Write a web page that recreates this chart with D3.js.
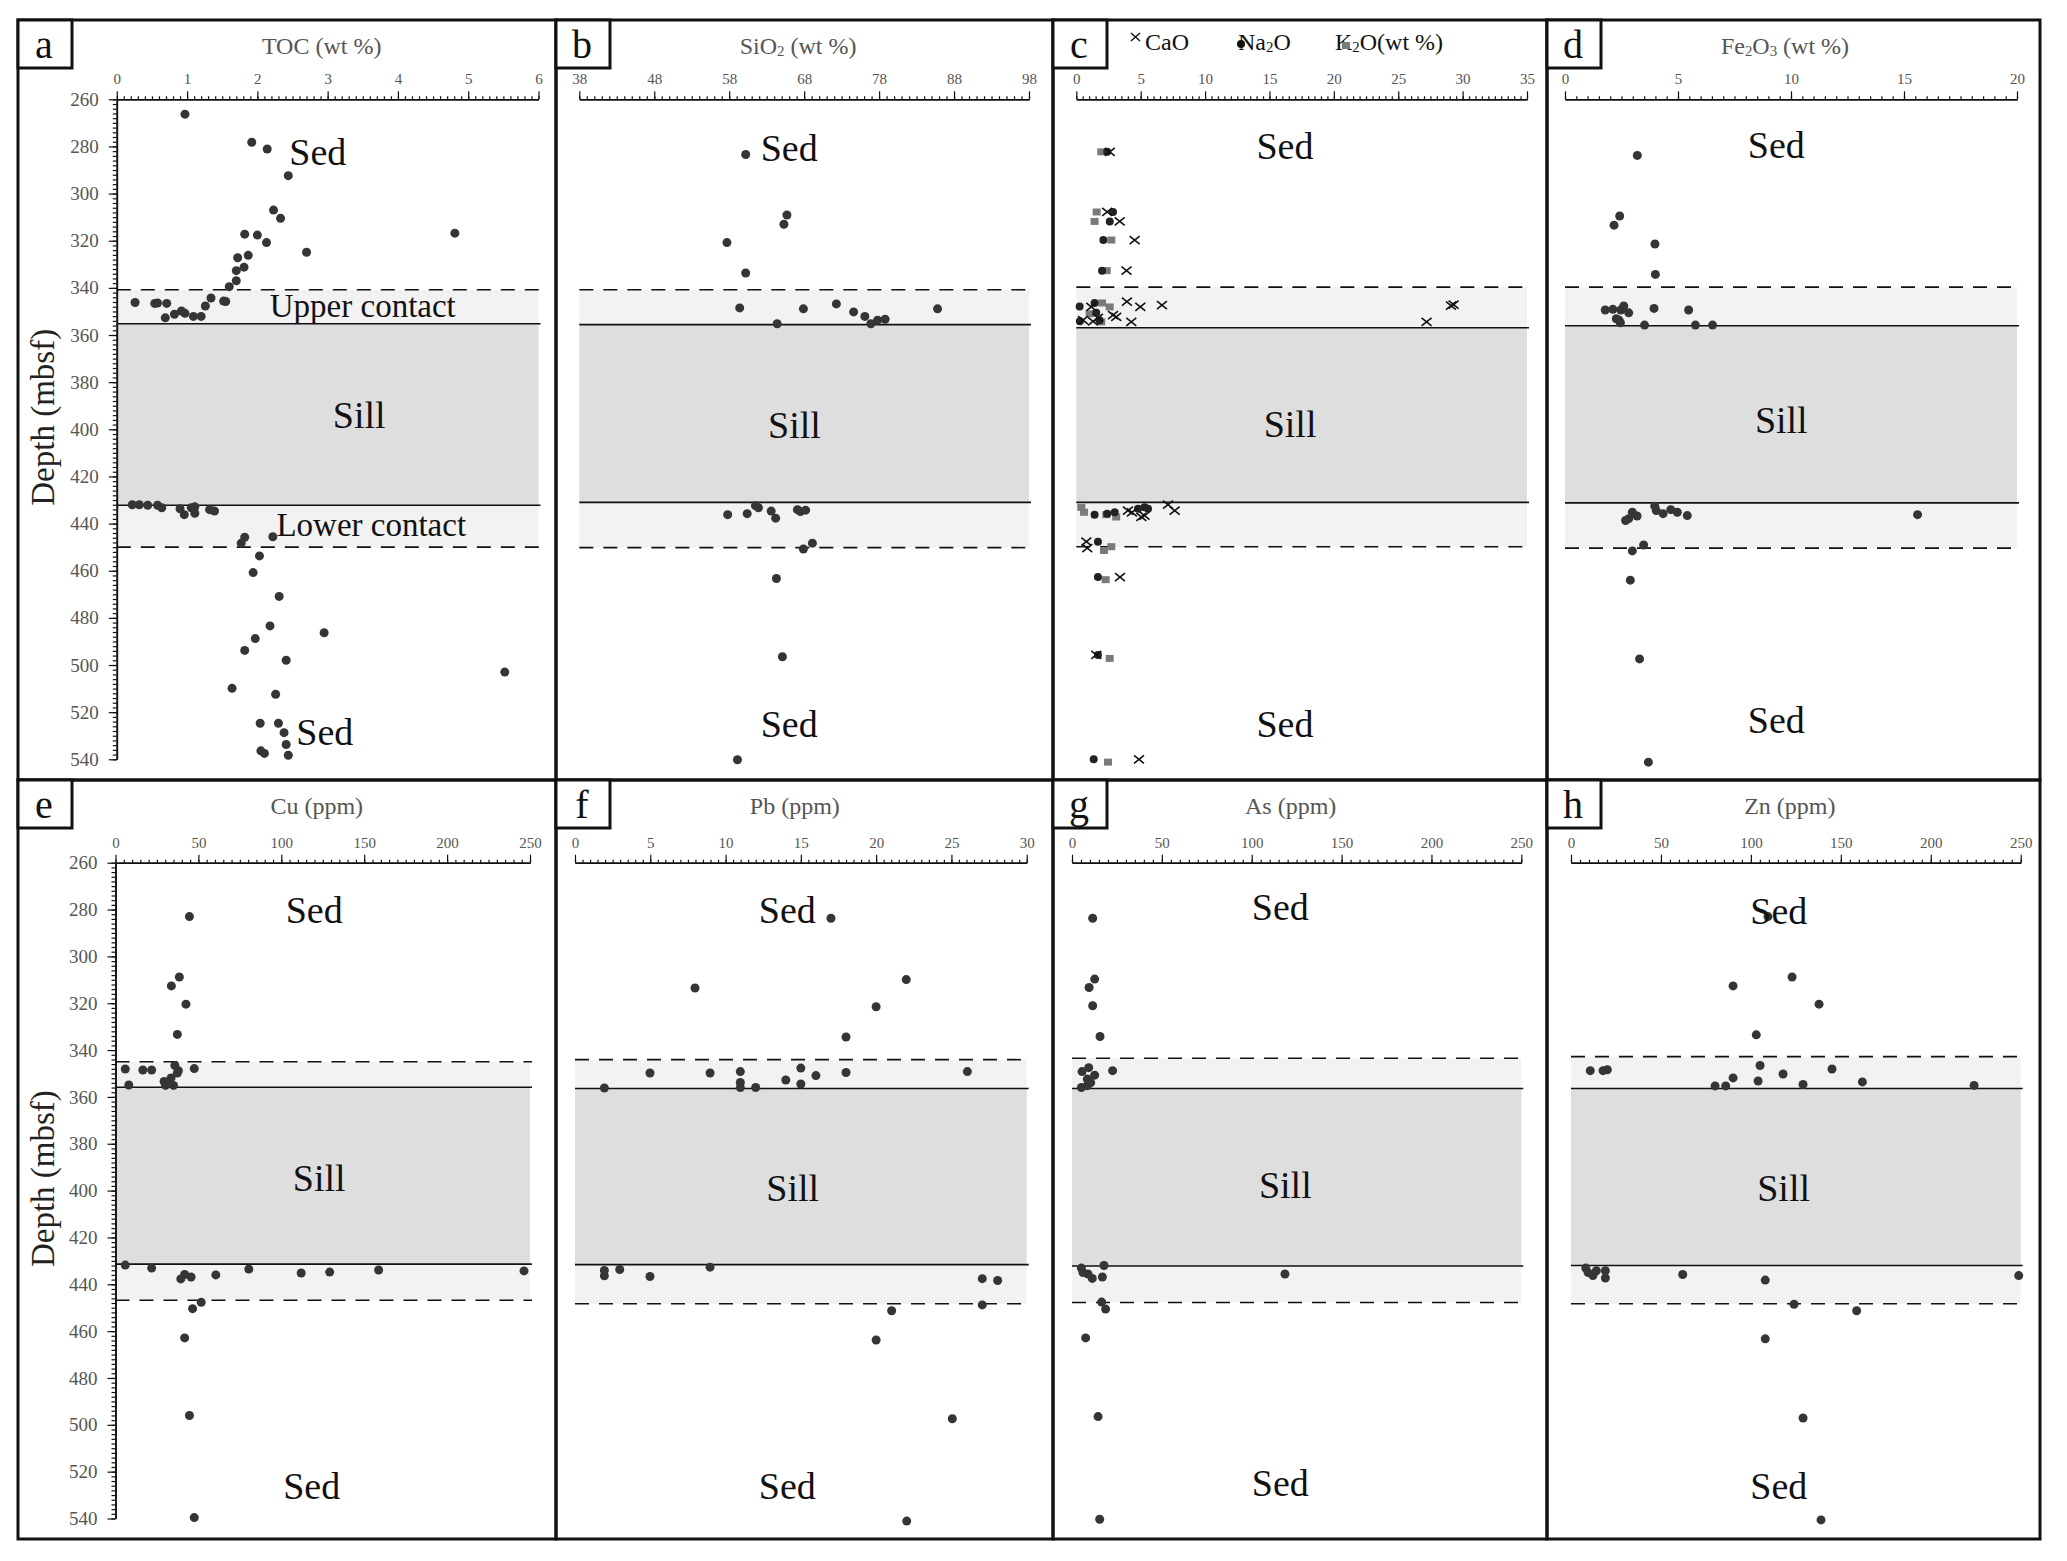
<!DOCTYPE html>
<html>
<head>
<meta charset="utf-8">
<title>Sill profiles</title>
<script src="https://d3js.org/d3.v7.min.js"></script>
<style>
  body { margin: 0; background: #fff; }
  svg { display: block; font-family: "Liberation Serif", "DejaVu Serif", serif; }
</style>
</head>
<body>
<div id="chart"></div>
<script>
// ---- data: [value, depth (mbsf)] ----
const tocData = [
  [0.97,266.3],[1.92,278.2],[2.14,281.1],[2.44,292.4],[2.23,307],[2.33,310.5],[1.82,317.2],[2.0,317.6],
  [2.13,320.8],[4.81,316.8],[2.70,324.9],[1.72,327.2],[1.87,326.2],[1.70,332.7],[1.81,331.2],[1.70,337],
  [1.60,339.5],[0.26,346.2],[0.54,346.6],[0.58,346.4],[0.71,346.6],[1.34,344.3],[1.26,347.7],[1.52,345.6],
  [1.55,345.8],[0.69,352.7],[0.82,351.2],[0.92,349.8],[0.97,350.8],[1.09,352.1],[1.20,352.1],
  [0.22,432],[0.32,432],[0.44,432.2],[0.58,432.2],[0.64,433.3],[0.90,433.7],[0.96,436.2],[1.06,433.3],
  [1.11,435.6],[1.11,432.9],[1.32,434.1],[1.39,434.7],[1.82,445.8],[2.22,445.6],[1.77,448.3],[2.03,453.7],
  [1.94,460.8],[2.31,470.9],[2.18,483.4],[2.95,486.3],[1.97,488.8],[1.82,493.8],[2.41,498],[5.52,503],
  [1.64,509.9],[2.26,512.4],[2.04,524.7],[2.30,524.7],[2.38,528.7],[2.41,533.7],[2.05,536.4],[2.10,537.5],
  [2.44,538.3]
];
const sio2Data = [
  [60.2,283.4],[65.7,309.1],[65.3,313],[57.7,320.8],[60.2,333.7],[59.4,348.5],[67.9,348.9],[72.3,346.8],
  [74.6,350.2],[76.1,352.1],[76.9,355.2],[77.8,353.7],[78.8,353.3],[85.8,348.9],[64.4,355.2],
  [61.5,432.4],[61.9,433.3],[57.8,436.2],[60.4,435.8],[63.6,434.7],[64.2,437.7],[67.1,434.1],[67.5,434.9],
  [68.2,434.3],[69.1,448.3],[67.9,450.8],[64.3,463.3],[65.1,496.5],[59.1,540.2]
];
const caoData = [
  [2.6,282.3],[2.4,307.8],[3.37,311.8],[4.53,319.7],[3.9,332.7],
  [3.93,345.8],[4.97,348.1],[6.65,347.3],[29.1,347.5],[29.3,347.1],[27.2,354.4],[4.27,354.4],[2.85,351.6],
  [3.1,352.3],[0.52,353.7],[1.16,348.1],[1.68,352.7],[1.3,354.2],
  [4.01,434.5],[4.32,435.2],[5.05,437.2],[5.3,436.6],[7.12,432],[7.64,434.5],[0.78,447.7],[0.85,450.4],
  [3.39,462.7],[1.55,495.7],[4.87,540]
];
const na2oData = [
  [2.4,282.3],[2.85,307.8],[2.6,311.8],[2.1,319.7],[2.0,332.7],
  [0.26,347.9],[0.28,354.2],[1.42,346.4],[1.55,350.6],[1.8,353.7],
  [1.42,436.2],[2.4,435.8],[2.98,435.2],[4.79,433.7],[5.3,433.1],[5.57,433.7],[1.68,447.7],
  [1.68,462.7],[1.68,495.7],[1.35,540]
];
const k2oData = [
  [1.94,282.3],[1.58,307.8],[1.42,311.8],[2.72,319.7],[2.36,332.7],
  [2.0,346.4],[2.59,348.1],[1.94,354.4],[1.04,351],
  [0.39,433.1],[0.6,435.2],[3.1,437.2],[2.33,436.2],[2.72,449.8],[2.15,451.4],
  [2.28,463.8],[2.59,497.2],[2.46,541.2]
];
const fe2o3Data = [
  [3.2,283.8],[2.42,309.5],[2.17,313.4],[3.98,321.4],[4.0,334.3],
  [1.78,349.4],[2.12,349.1],[2.47,349.4],[2.6,347.7],[2.82,350.6],[3.94,348.7],[5.47,349.4],[2.27,353.1],
  [2.39,353.7],[2.45,354.8],[3.52,355.8],[5.77,355.8],[6.53,355.8],
  [3.97,432.6],[4.04,434.5],[4.34,435.8],[4.68,434.1],[4.97,435.2],[5.41,436.6],[2.98,435.2],[3.19,436.8],
  [2.82,437.9],[2.68,438.7],[15.6,436.2],[3.48,449.1],[2.98,451.6],[2.89,464],[3.3,497.4],[3.69,541.2]
];
const cuData = [
  [44.6,283],[38.5,308.8],[33.7,312.6],[42.5,320.4],[37.3,333.3],
  [5.9,348.1],[16.5,348.5],[21.8,348.5],[35.8,346.6],[37.9,348.8],[37.3,349.8],[47.5,347.9],[8.0,354.9],
  [29.3,353.4],[33.5,351.9],[31.8,354],[35,355.1],[30.2,355.1],
  [5.9,431.8],[21.8,433.1],[39.4,437.7],[41.7,435.8],[45.6,436.9],[60.5,436],[80.4,433.5],[112,435.2],
  [129.2,434.8],[158.7,433.9],[246.4,434.3],[51.7,447.7],[46.5,450.4],[41.7,462.9],[44.6,496],[47.5,539.6]
];
const pbData = [
  [17.0,283.7],[7.97,313.5],[22.0,309.9],[20.0,321.5],[18.0,334.4],
  [4.98,349.8],[8.97,349.8],[10.98,349.2],[10.98,353.8],[10.98,356],[12.0,356],[14.0,352.8],[15.0,347.7],
  [15.0,354.5],[16.0,350.9],[18.0,349.6],[26.06,349.2],[1.95,356.2],
  [1.95,434.1],[1.95,436.4],[2.97,433.7],[4.98,436.7],[8.97,432.7],[27.05,437.6],[28.07,438.4],
  [27.05,448.8],[21.03,451.3],[20.0,463.8],[25.06,497.4],[22.03,541.1]
];
const asData = [
  [11.5,283.7],[12.6,309.7],[9.5,313.3],[11.5,321.1],[15.6,334.2],
  [5.6,349.2],[9.3,347.5],[12.6,350.7],[8.5,352.4],[10.4,353.9],[5.2,356],[8.5,355.2],[22.6,348.8],
  [5.2,433.1],[6.1,435],[8.9,435.6],[11.3,437.5],[16.9,436.9],[17.8,432],[118.5,435.6],
  [16.5,447.6],[18.7,450.6],[7.6,462.9],[14.5,496.5],[15.4,540.3]
];
const znData = [
  [109.5,283],[90.1,312.6],[122.9,308.8],[137.9,320.4],[103.0,333.5],
  [10.7,348.8],[17.8,348.8],[20.2,348.4],[80.1,355.3],[86,355.3],[90.1,351.9],[105.1,346.6],[104,353.2],
  [117.9,350.2],[129,354.7],[145.1,348.1],[162,353.6],[224.1,355.1],
  [8.2,433.1],[9.5,435],[12.2,436.3],[14.1,434.2],[19.1,434.2],[19.1,437.3],[62.1,435.8],[108,438.2],
  [248.9,436.3],[124,448.5],[158.8,451.3],[108,463.3],[129,497.1],[139,540.6]
];

// contact / sill limits per panel: [upper dashed, upper solid, lower solid, lower dashed]
const bandsA = [340.8, 355.2, 432.2, 450];
const bandsB = [340.8, 355.6, 431, 450.2];
const bandsC = [339.7, 356.9, 431, 449.8];
const bandsD = [339.7, 356.1, 431.2, 450.4];
const bandsE = [345, 355.9, 431.4, 446.8];
const bandsF = [344.1, 356.4, 431.6, 448.3];
const bandsG = [343.5, 356.4, 432.2, 447.8];
const bandsH = [342.8, 356.4, 432, 448.3];

const depthDomain = [260, 540];
const depthTicks = d3.range(260, 541, 20);
const depthMinor = d3.range(260, 541, 2);

// ---- layout ----
const W = 2067, H = 1561;
const rows = [
  {top: 20, bottom: 780, y0: 99.3, y1: 759.3},
  {top: 780, bottom: 1539, y0: 862.7, y1: 1518.5}
];
const cols = [{l: 18, r: 556}, {l: 556, r: 1053}, {l: 1053, r: 1547}, {l: 1547, r: 2040}];

const sed = (v1, d1, v2, d2) => [
  {t: 'Sed', v: v1, d: d1, size: 38},
  {t: 'Sed', v: v2, d: d2, size: 38}
];

const panels = [
  {id: 'a', row: 0, col: 0, xr: [116.8, 538.5], domain: [0, 6], major: 1, minor: 0.1, yAxis: true,
   title: [['TOC (wt %)']], data: tocData, bands: bandsA,
   labels: [...sed(2.86, 282.3, 2.96, 528.5), {t: 'Sill', v: 3.45, d: 394, size: 38},
            {t: 'Upper contact', v: 3.5, d: 347.9, size: 33}, {t: 'Lower contact', v: 3.62, d: 440.4, size: 33}]},
  {id: 'b', row: 0, col: 1, xr: [579.3, 1029], domain: [38, 98], major: 10, minor: 1,
   title: [['SiO'], ['2', 'sub'], [' (wt %)']], data: sio2Data, bands: bandsB,
   labels: [...sed(66.0, 280.7, 66.0, 525), {t: 'Sill', v: 66.7, d: 398.2, size: 38}]},
  {id: 'c', row: 0, col: 2, xr: [1076.3, 1527], domain: [0, 35], major: 5, minor: 0.5,
   title: null, data: null, bands: bandsC,
   labels: [...sed(16.2, 280, 16.2, 525), {t: 'Sill', v: 16.6, d: 397.6, size: 38}]},
  {id: 'd', row: 0, col: 3, xr: [1565, 2017], domain: [0, 20], major: 5, minor: 0.5,
   title: [['Fe'], ['2', 'sub'], ['O'], ['3', 'sub'], [' (wt %)']], data: fe2o3Data, bands: bandsD,
   labels: [...sed(9.35, 279.2, 9.35, 523.3), {t: 'Sill', v: 9.57, d: 396.1, size: 38}]},
  {id: 'e', row: 1, col: 0, xr: [115.5, 530], domain: [0, 250], major: 50, minor: 5, yAxis: true,
   title: [['Cu (ppm)']], data: cuData, bands: bandsE,
   labels: [...sed(119.8, 280.3, 118.3, 526.3), {t: 'Sill', v: 122.9, d: 394.6, size: 38}]},
  {id: 'f', row: 1, col: 1, xr: [575, 1026.7], domain: [0, 30], major: 5, minor: 0.5,
   title: [['Pb (ppm)']], data: pbData, bands: bandsF,
   labels: [...sed(14.1, 280.1, 14.1, 526), {t: 'Sill', v: 14.46, d: 398.8, size: 38}]},
  {id: 'g', row: 1, col: 2, xr: [1072, 1521.3], domain: [0, 250], major: 50, minor: 5,
   title: [['As (ppm)']], data: asData, bands: bandsG,
   labels: [...sed(115.9, 279, 115.9, 525), {t: 'Sill', v: 118.7, d: 397.4, size: 38}]},
  {id: 'h', row: 1, col: 3, xr: [1571, 2020.7], domain: [0, 250], major: 50, minor: 5,
   title: [['Zn (ppm)']], data: znData, bands: bandsH,
   labels: [...sed(115.5, 280.5, 115.5, 526), {t: 'Sill', v: 118.2, d: 398.8, size: 38}]}
];

const svg = d3.select('#chart').append('svg')
  .attr('width', W).attr('height', H);
svg.append('rect').attr('width', W).attr('height', H).attr('fill', '#fff');

// writes text parts with small subscripts
function addParts(sel, parts) {
  let down = false;
  parts.forEach(([txt, kind]) => {
    const ts = sel.append('tspan').text(txt);
    if (kind === 'sub') {
      ts.attr('font-size', '0.62em');
      if (!down) { ts.attr('dy', 2); down = true; }
    } else if (down) {
      ts.attr('dy', -2); down = false;
    }
  });
}

function styleAxis(g, size) {
  g.attr('font-family', null).attr('font-size', null);
  g.select('.domain').attr('stroke', '#111').attr('stroke-width', 1.6);
  g.selectAll('.tick line').attr('stroke', '#111').attr('stroke-width', 1.2);
  g.selectAll('.tick text').attr('fill', '#555').style('font-size', size + 'px');
}

const steps = (lo, hi, st) => d3.range(0, Math.round((hi - lo) / st) + 1).map(i => +(lo + i * st).toFixed(4));

panels.forEach(p => {
  const row = rows[p.row], col = cols[p.col];
  const x = d3.scaleLinear().domain(p.domain).range(p.xr);
  const y = d3.scaleLinear().domain(depthDomain).range([row.y0, row.y1]);
  const g = svg.append('g').attr('class', 'panel-' + p.id);
  const xa = p.xr[0], xb = p.xr[1];
  const [b0, b1, b2, b3] = p.bands;

  // contact zones and sill
  g.append('rect').attr('x', xa).attr('y', y(b0)).attr('width', xb - xa).attr('height', y(b1) - y(b0)).attr('fill', '#f2f2f2');
  g.append('rect').attr('x', xa).attr('y', y(b2)).attr('width', xb - xa).attr('height', y(b3) - y(b2)).attr('fill', '#f2f2f2');
  g.append('rect').attr('x', xa).attr('y', y(b1)).attr('width', xb - xa).attr('height', y(b2) - y(b1)).attr('fill', '#dedede');
  [[b0, true], [b1, false], [b2, false], [b3, true]].forEach(([d, dashed]) => {
    g.append('line').attr('x1', xa).attr('x2', xb + 2).attr('y1', y(d)).attr('y2', y(d))
      .attr('stroke', '#111').attr('stroke-width', 1.6)
      .attr('stroke-dasharray', dashed ? '14,10' : null);
  });

  // x axis on top
  g.append('g').attr('transform', `translate(0,${row.y0})`)
    .call(d3.axisTop(x).tickValues(steps(p.domain[0], p.domain[1], p.minor)).tickSize(3).tickSizeOuter(0).tickFormat(''))
    .call(s => styleAxis(s, 15));
  g.append('g').attr('transform', `translate(0,${row.y0})`)
    .call(d3.axisTop(x).tickValues(steps(p.domain[0], p.domain[1], p.major)).tickSize(8).tickSizeOuter(0)
      .tickPadding(7).tickFormat(d3.format('d')))
    .call(s => styleAxis(s, 15));

  if (p.yAxis) {
    g.append('g').attr('transform', `translate(${xa},0)`)
      .call(d3.axisLeft(y).tickValues(depthMinor).tickSize(4).tickSizeOuter(0).tickFormat(''))
      .call(s => styleAxis(s, 19));
    g.append('g').attr('transform', `translate(${xa},0)`)
      .call(d3.axisLeft(y).tickValues(depthTicks).tickSize(8).tickSizeOuter(0).tickPadding(10).tickFormat(d3.format('d')))
      .call(s => styleAxis(s, 19));
    g.append('text')
      .attr('transform', `translate(43,${(row.y0 + row.y1) / 2 - 12}) rotate(-90)`)
      .attr('text-anchor', 'middle').attr('dominant-baseline', 'central')
      .attr('font-size', 33).attr('fill', '#222')
      .text('Depth (mbsf)');
  }

  // points
  if (p.data) {
    g.selectAll('circle.pt').data(p.data).join('circle').attr('class', 'pt')
      .attr('cx', d => x(d[0])).attr('cy', d => y(d[1])).attr('r', 4.5).attr('fill', '#353535');
  } else {
    // CaO / Na2O / K2O
    g.selectAll('rect.k2o').data(k2oData).join('rect').attr('class', 'k2o')
      .attr('x', d => x(d[0]) - 4).attr('y', d => y(d[1]) - 3.5).attr('width', 8).attr('height', 7).attr('fill', '#7a7a7a');
    g.selectAll('circle.na2o').data(na2oData).join('circle').attr('class', 'na2o')
      .attr('cx', d => x(d[0])).attr('cy', d => y(d[1])).attr('r', 4).attr('fill', '#222');
    g.selectAll('path.cao').data(caoData).join('path').attr('class', 'cao')
      .attr('d', d => { const cx = x(d[0]), cy = y(d[1]);
        return `M${cx - 5},${cy - 4}L${cx + 5},${cy + 4}M${cx - 5},${cy + 4}L${cx + 5},${cy - 4}`; })
      .attr('stroke', '#111').attr('stroke-width', 1.6).attr('fill', 'none');

    // legend across the top
    const ly = row.top + 30;
    const lg = g.append('g').attr('font-size', 24).attr('fill', '#111');
    lg.append('path').attr('d', `M${col.l + 78},${row.top + 13}L${col.l + 87},${row.top + 21}M${col.l + 78},${row.top + 21}L${col.l + 87},${row.top + 13}`)
      .attr('stroke', '#111').attr('stroke-width', 1.4);
    addParts(lg.append('text').attr('x', col.l + 92).attr('y', ly), [['CaO']]);
    addParts(lg.append('text').attr('x', col.l + 185).attr('y', ly), [['Na'], ['2', 'sub'], ['O']]);
    lg.append('circle').attr('cx', col.l + 188).attr('cy', row.top + 24).attr('r', 4).attr('fill', '#111');
    addParts(lg.append('text').attr('x', col.l + 282).attr('y', ly), [['K'], ['2', 'sub'], ['O(wt %)']]);
    lg.append('rect').attr('x', col.l + 289).attr('y', row.top + 22).attr('width', 8).attr('height', 7).attr('fill', '#7a7a7a');
  }

  // zone labels
  g.selectAll('text.zone').data(p.labels).join('text').attr('class', 'zone')
    .attr('x', d => x(d.v)).attr('y', d => y(d.d))
    .attr('text-anchor', 'middle').attr('dominant-baseline', 'central')
    .attr('font-size', d => d.size).attr('fill', '#111')
    .text(d => d.t);

  // title
  if (p.title) {
    addParts(g.append('text').attr('x', (xa + xb) / 2 - 6).attr('y', row.top + 34)
      .attr('text-anchor', 'middle').attr('font-size', 24).attr('fill', '#555'), p.title);
  }

  // frame and letter box
  g.append('rect').attr('x', col.l).attr('y', row.top).attr('width', col.r - col.l).attr('height', row.bottom - row.top)
    .attr('fill', 'none').attr('stroke', '#111').attr('stroke-width', 3);
  g.append('rect').attr('x', col.l).attr('y', row.top).attr('width', 54).attr('height', 48)
    .attr('fill', '#fff').attr('stroke', '#111').attr('stroke-width', 3);
  g.append('text').attr('x', col.l + 26).attr('y', row.top + 38)
    .attr('text-anchor', 'middle').attr('font-size', 40).attr('fill', '#111').text(p.id);
});
</script>
</body>
</html>
